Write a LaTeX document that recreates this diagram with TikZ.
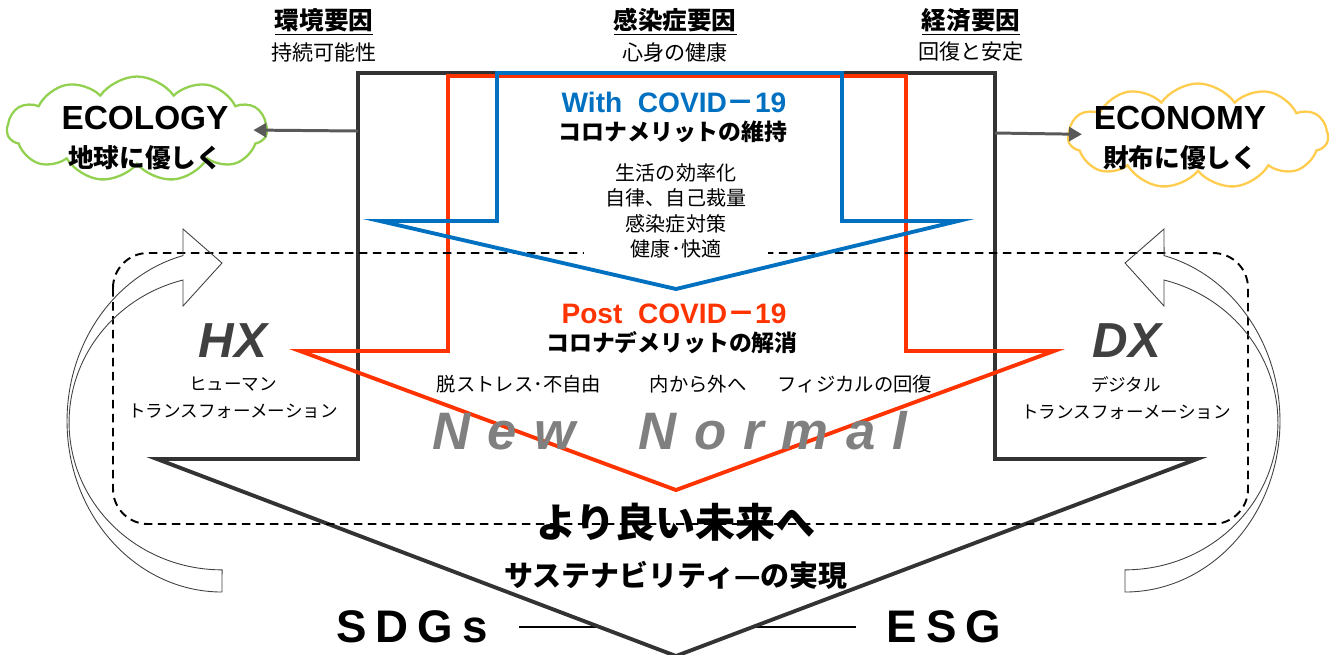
\documentclass[tikz,border=0pt]{standalone}
\usepackage{fontspec}
\setmainfont{Noto Sans CJK JP}
\newfontfamily\lat{Liberation Sans}
\usetikzlibrary{shapes.symbols,arrows.meta}
\definecolor{shaftk}{HTML}{333333}
\definecolor{postred}{HTML}{FF3300}
\definecolor{withblue}{HTML}{0070C0}
\definecolor{ecogreen}{HTML}{92D050}
\definecolor{ecnyellow}{HTML}{FFCC4D}
\definecolor{tapgray}{HTML}{595959}
\definecolor{xgray}{HTML}{404040}
\definecolor{nngray}{HTML}{808080}
\tikzset{
  txt/.style = {align=center, inner sep=0pt, text centered},
  hdr_t/.style = {txt, font=\fontsize{14}{16}\selectfont\bfseries},
  sub_t/.style = {txt, font=\fontsize{12}{14}\selectfont},
  cov_t/.style = {txt, font=\fontsize{16}{18}\selectfont\bfseries},
  mer_t/.style = {txt, font=\fontsize{13}{15}\selectfont\bfseries},
  lst_t/.style = {txt, font=\fontsize{11.4}{14.4}\selectfont},
  itm_t/.style = {txt, font=\fontsize{11}{13}\selectfont},
  x_t/.style = {txt, text=xgray, font=\lat\fontsize{28}{30}\selectfont\bfseries\itshape},
  xsub_t/.style = {txt, font=\fontsize{10}{15.6}\selectfont},
  nn_t/.style = {txt, text=nngray, font=\lat\fontsize{30}{32}\selectfont\bfseries\itshape},
  far_t/.style = {txt, font=\fontsize{22.8}{26}\selectfont\bfseries},
  sus_t/.style = {txt, font=\fontsize{16.5}{18}\selectfont\bfseries},
  sdg_t/.style = {txt, font=\lat\fontsize{26}{28}\selectfont\bfseries},
  cloud_n/.style = {cloud, cloud puffs=11, cloud puff arc=110, cloud ignores aspect, minimum width=5.2cm, minimum height=2.1cm, line width=1.3pt, inner sep=0pt},
  cloud_t/.style = {txt, font=\fontsize{14.6}{21.6}\selectfont\bfseries},
  tap/.style = {draw=tapgray, line width=1.7pt, -{Triangle[length=0.26cm, width=0.28cm]}},
  big_arr/.style = {line width=2.2pt, miter limit=12},
  dash_box/.style = {draw=black, line width=1.1pt, dash pattern=on 0.17cm off 0.11cm, rounded corners=0.7cm},
  turn_l/.style = {draw=black!75, line width=0.5pt},
  turnarr/.pic = {
    \draw[turn_l] (222,-592) arc[start angle=270, end angle=104.6, x radius=3.1cm, y radius=3.42cm]
      -- (183,-229) -- (222,-263) -- (183,-306) -- (183,-280)
      arc[start angle=104.8, end angle=270, x radius=3.06cm, y radius=2.948cm] -- cycle;
  }
}

\begin{document}
\begin{tikzpicture}[x=0.02cm, y=0.02cm]
	\useasboundingbox (0,0) rectangle (1334,-654);
	\node [sdg_t] (sdgs) at (412,-627) {S\hspace{.2em}D\hspace{.2em}G\hspace{.2em}s};
	\node [sdg_t] (esg) at (944,-627) {E\hspace{.2em}S\hspace{.2em}G};
	\draw [line width=1pt, shorten <=0.62cm, shorten >=0.6cm] (sdgs.east) -- (esg.west);
	\draw [big_arr, draw=shaftk, fill=white] (358,-73) -- (995,-73) -- (995,-459) -- (1197,-459)
		-- (676,-656) -- (157,-459) -- (358,-459) -- cycle;
	\draw [big_arr, draw=postred] (448,-76) -- (906,-76) -- (906,-351) -- (1054,-351)
		-- (676,-490) -- (300,-351) -- (448,-351) -- cycle;
	\draw [dash_box] (113,-253) rectangle (1248,-524);
	\draw [big_arr, draw=withblue] (497,-73) -- (842,-73) -- (842,-221) -- (958,-221)
		-- (676,-289) -- (380,-221) -- (497,-221) -- cycle;
	\pic at (0,0) {turnarr};
	\pic [xscale=-1] at (1347,0) {turnarr};
	\node [cloud_n, draw=ecogreen] (ecology) at (137,-129) {};
	\node [cloud_n, draw=ecnyellow] (economy) at (1198,-136) {};
	\coordinate (ecotap) at (358,-131);
	\coordinate (ecntap) at (995,-133);
	\draw [tap, shorten >=-0.3cm] (ecotap) -- (ecology);
	\draw [tap, shorten >=-0.3cm] (ecntap) -- (economy);
	\node [cloud_t] (ecotext) at (145,-138) {{\lat\fontsize{19}{21.6}\selectfont ECOLOGY}\\地球に優しく};
	\node [cloud_t] (ecntext) at (1180,-138) {{\lat\fontsize{19}{21.6}\selectfont ECONOMY}\\財布に優しく};
	\node [hdr_t] (envhdr) at (324,-22) {\underline{環境要因}};
	\node [sub_t] (envsub) at (324,-52) {持続可能性};
	\node [hdr_t] (infhdr) at (675,-22) {\underline{感染症要因}};
	\node [sub_t] (infsub) at (675,-52) {心身の健康};
	\node [hdr_t] (ecohdr) at (971,-22) {\underline{経済要因}};
	\node [sub_t] (ecosub) at (971,-52) {回復と安定};
	\node [cov_t, text=withblue] (with) at (674,-102) {{\lat With\ \ COVID}－{\lat 19}};
	\node [mer_t] (keep) at (673,-132) {コロナメリットの維持};
	\node [lst_t, fill=white, minimum width=3.7cm] (goods) at (676,-211) {生活の効率化\\自律、自己裁量\\感染症対策\\健康･快適};
	\node [cov_t, text=postred] (post) at (674,-314) {{\lat Post\ \ COVID}－{\lat 19}};
	\node [mer_t] (solve) at (672,-343) {コロナデメリットの解消};
	\node [itm_t] (stress) at (519,-384) {脱ストレス･不自由};
	\node [itm_t] (outward) at (698,-384) {内から外へ};
	\node [itm_t] (physical) at (855,-384) {フィジカルの回復};
	\node [x_t] (hx) at (233,-341) {HX};
	\node [xsub_t] (hxsub) at (233,-398) {ヒューマン\\トランスフォーメーション};
	\node [x_t] (dx) at (1127,-341) {DX};
	\node [xsub_t] (dxsub) at (1126,-398) {デジタル\\トランスフォーメーション};
	\node [nn_t] (newnormal) at (670,-431) {N\hspace{.33em}e\hspace{.33em}w\hspace{1.2em}N\hspace{.33em}o\hspace{.33em}r\hspace{.33em}m\hspace{.33em}a\hspace{.33em}l};
	\node [far_t] (future) at (676,-522) {より良い未来へ};
	\node [sus_t] (sustain) at (676,-575) {サステナビリティ—の実現};
\end{tikzpicture}
\end{document}
